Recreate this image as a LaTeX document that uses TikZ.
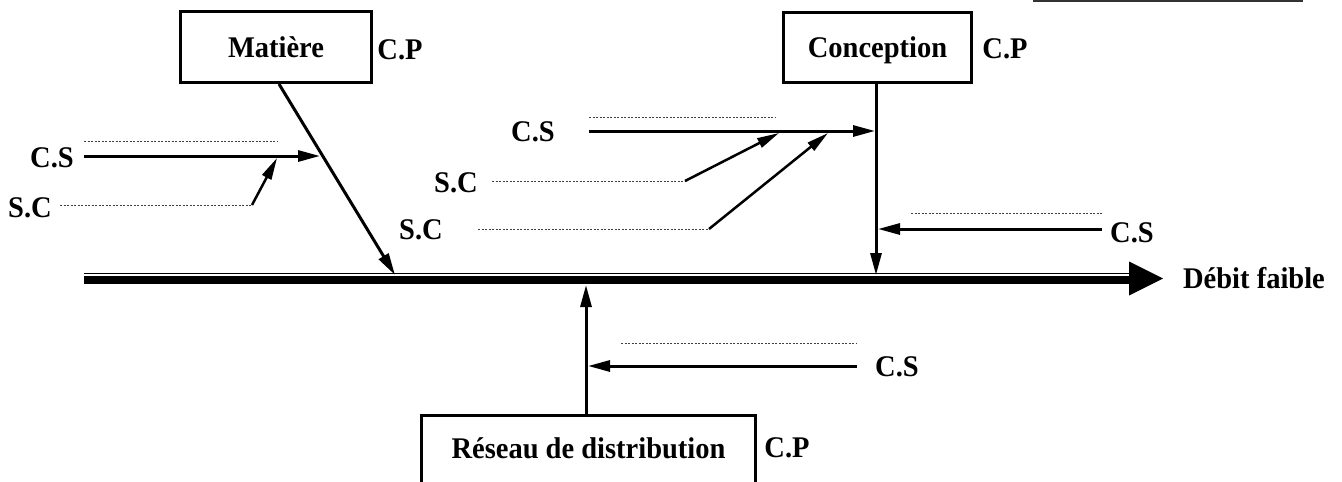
\documentclass[tikz,border=0pt]{standalone}
\usepackage{fontspec}
\setmainfont{Liberation Serif}[FakeStretch=0.95]
\usetikzlibrary{arrows.meta}

\begin{document}
\begin{tikzpicture}[x=1pt,y=-1pt,
  lbl/.style={font=\fontsize{30}{34}\selectfont\bfseries, text height=20pt, text depth=0pt, inner sep=0pt},
  cause/.style={lbl, draw, line width=3pt},
  bone/.style={line width=3pt, -{Triangle[length=22pt,width=11pt]}},
  sub/.style={line width=2.5pt, -{Triangle[length=22pt,width=10pt]}},
  guide/.style={black!75, line width=0.9pt, dash pattern=on 2pt off 1.5pt},
]
\useasboundingbox (0,0) rectangle (1342,482);

% rule at the upper right
\draw[black!80, line width=1.6pt] (1033,0.8) -- (1303,0.8);

% main causes
\node[cause, minimum width=191pt, minimum height=71pt] (mat) at (276,47) {Matière};
\node[cause, minimum width=188pt, minimum height=70pt] (con) at (877.5,47.5) {Conception};
\node[cause, minimum width=334pt, minimum height=80pt, text depth=13pt, anchor=north] (res) at (588.5,413.5) {Réseau de distribution};

\node[lbl] (cpm) at (400,49) {C.P};
\node[lbl] (cpc) at (1005,48) {C.P};
\node[lbl] (cpr) at (787,447) {C.P};

% effect and spine
\node[lbl] (eff) at (1254,278) {Débit faible};
\coordinate (tail) at (84,280);
\coordinate (tailthin) at (84,273.3);
\coordinate (base) at (1131,280);
\coordinate (basethin) at (1131,273.3);
\coordinate (head) at (1163,278.5);
\draw[line width=7.8pt] (tail) -- (base);
\draw[line width=1.6pt] (tailthin) -- (basethin);
\fill (1129,261.5) -- (head) -- (1129,295.5) -- cycle;

% junctions on the spine
\coordinate (jm) at (395,275);
\coordinate (jc) at (876,275);
\coordinate (jr) at (586,285);

\draw[bone] ([xshift=3pt]mat.south) -- (jm);
\draw[bone] ([xshift=-1.5pt]con.south) -- (jc);
\draw[bone] ([xshift=-2.5pt]res.north) -- (jr);

% secondary causes of "Matiere"
\node[lbl] (csm) at (52,157) {C.S};
\node[lbl] (scm) at (30,207) {S.C};
\coordinate (csm0) at (84,156);
\coordinate (csm1) at (320,156);
\coordinate (scm0) at (252,205);
\coordinate (scm1) at (277,158);
\draw[guide] (84,141) -- (277,141);
\draw[guide] (60,205) -- (scm0);
\draw[bone] (csm0) -- (csm1);
\draw[sub] (scm0) -- (scm1);

% secondary causes of "Conception"
\node[lbl] (csc) at (533,131) {C.S};
\node[lbl] (scc1) at (456,182) {S.C};
\node[lbl] (scc2) at (421,229) {S.C};
\coordinate (csc0) at (589,131);
\coordinate (csc1) at (875,131);
\coordinate (scc10) at (685,181);
\coordinate (scc11) at (779,133);
\coordinate (scc20) at (709,229);
\coordinate (scc21) at (828,133);
\draw[guide] (589,117) -- (775,117);
\draw[guide] (492,181) -- (scc10);
\draw[guide] (478,229) -- (scc20);
\draw[bone] (csc0) -- (csc1);
\draw[sub] (scc10) -- (scc11);
\draw[sub] (scc20) -- (scc21);

\node[lbl] (csr) at (1132,232) {C.S};
\coordinate (csr0) at (1102,229);
\coordinate (csr1) at (878,229);
\draw[guide] (911,213) -- (1103,213);
\draw[bone] (csr0) -- (csr1);

% secondary cause of "Reseau de distribution"
\node[lbl] (csd) at (897,366) {C.S};
\coordinate (csd0) at (857,366);
\coordinate (csd1) at (588,366);
\draw[guide] (621,343) -- (857,343);
\draw[bone] (csd0) -- (csd1);
\end{tikzpicture}
\end{document}
